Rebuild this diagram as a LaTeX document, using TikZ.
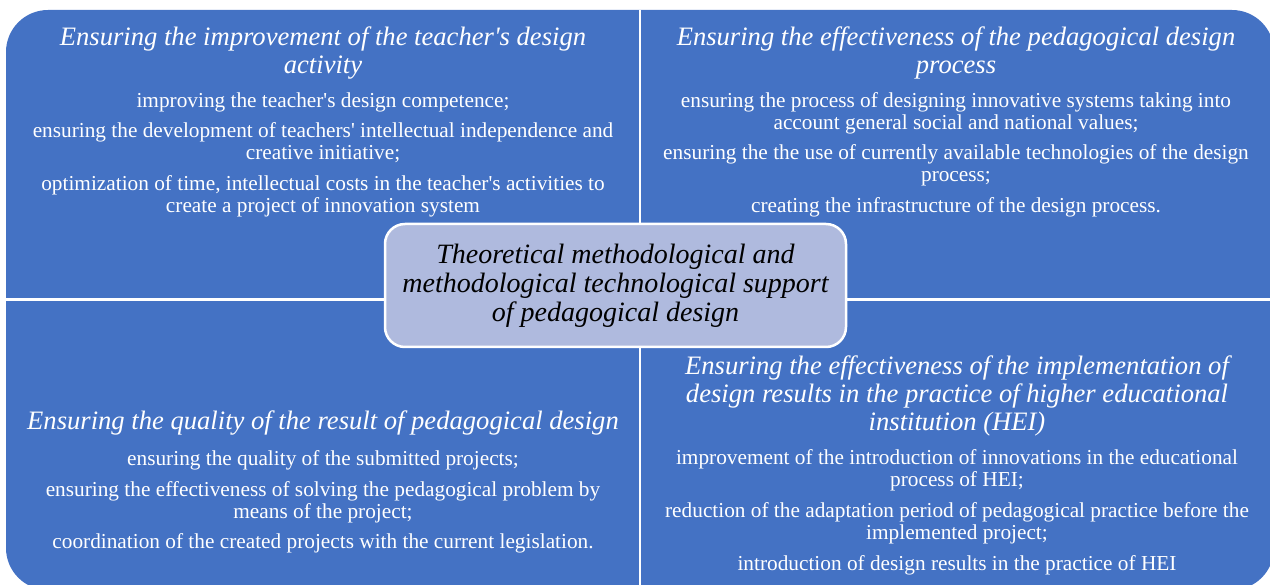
\documentclass[tikz,border=0pt]{standalone}
\usepackage{fontspec}
\setmainfont{Liberation Serif}
\usepackage{tikz}

\definecolor{quadblue}{RGB}{68,114,196}
\definecolor{hubfill}{RGB}{175,186,222}

\newcommand{\q}{\textquotesingle}

\tikzset{
	head/.style={text=white, align=center, inner sep=0pt, font=\itshape\fontsize{26.6}{28}\selectfont},
	item/.style={text=white, align=center, inner sep=0pt, font=\fontsize{21.3}{22}\selectfont},
	hub/.style={draw=white, line width=2.5pt, fill=hubfill, rounded corners=20pt,
		minimum width=461pt, minimum height=123pt, align=center, inner sep=0pt,
		font=\itshape\fontsize{28}{29}\selectfont}
}

\begin{document}
\begin{tikzpicture}[x=1pt,y=1pt]
		\useasboundingbox (0,0) rectangle (1270,-585);
		% blue field, split in four by white lines
		\fill[quadblue, rounded corners=42pt] (6,-10) rectangle (1274,-590);
		\draw[white, line width=2.5pt] (640,-10) -- (640,-590) (6,-299.5) -- (1274,-299.5);

		% top left
		\node[head] (tlhead) at (323,-53) {Ensuring the improvement of the teacher\q s design\\activity};
		\node[item] (tl1) at (323,-102) {improving the teacher\q s design competence;};
		\node[item] (tl2) at (323,-143) {ensuring the development of teachers\q{} intellectual independence and\\creative initiative;};
		\node[item] (tl3) at (323,-196) {optimization of time, intellectual costs in the teacher\q s activities to\\create a project of innovation system};

		% top right
		\node[head] (trhead) at (956,-53) {Ensuring the effectiveness of the pedagogical design\\process};
		\node[item] (tr1) at (956,-113) {ensuring the process of designing innovative systems taking into\\account general social and national values;};
		\node[item] (tr2) at (956,-165) {ensuring the the use of currently available technologies of the design\\process;};
		\node[item] (tr3) at (956,-207) {creating the infrastructure of the design process.};

		% bottom left
		\node[head] (blhead) at (323,-423) {Ensuring the quality of the result of pedagogical design};
		\node[item] (bl1) at (323,-460) {ensuring the quality of the submitted projects;};
		\node[item] (bl2) at (323,-502) {ensuring the effectiveness of solving the pedagogical problem by\\means of the project;};
		\node[item] (bl3) at (323,-543) {coordination of the created projects with the current legislation.};

		% bottom right
		\node[head] (brhead) at (957,-396) {Ensuring the effectiveness of the implementation of\\design results in the practice of higher educational\\institution (HEI)};
		\node[item] (br1) at (957,-470) {improvement of the introduction of innovations in the educational\\process of HEI;};
		\node[item] (br2) at (957,-523) {reduction of the adaptation period of pedagogical practice before the\\implemented project;};
		\node[item] (br3) at (957,-565) {introduction of design results in the practice of HEI};

		% centre
		\node[hub] (support) at (615.5,-285.5) {Theoretical methodological and\\methodological technological support\\of pedagogical design};
		\end{tikzpicture}
\end{document}
